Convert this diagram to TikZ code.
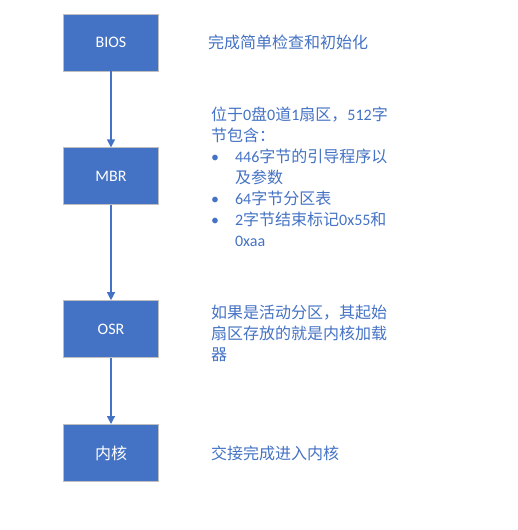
\documentclass[tikz,border=0pt]{standalone}
\usepackage{fontspec}
\setmainfont{Carlito}
\newfontfamily\cjk{Noto Sans CJK SC}
\usetikzlibrary{arrows.meta,positioning}
\definecolor{boxblue}{HTML}{4472C4}
\definecolor{edgegray}{HTML}{BFBFBF}

% switch to the CJK font for Han characters
\XeTeXinterchartokenstate=1
\newXeTeXintercharclass\zhclass
\newcount\zhcnt
\zhcnt="4E00
\loop
  \XeTeXcharclass\zhcnt=\zhclass
  \ifnum\zhcnt<"9FFF \advance\zhcnt by 1
\repeat
\XeTeXcharclass"FF0C=\zhclass
\XeTeXcharclass"FF1A=\zhclass
\XeTeXinterchartoks 0 \zhclass={\cjk}
\XeTeXinterchartoks 4095 \zhclass={\cjk}
\XeTeXinterchartoks \zhclass 0={\rmfamily}
\XeTeXinterchartoks 4095 0={\rmfamily}

\begin{document}
\begin{tikzpicture}[
  x=1pt, y=-1pt,
  stagebox/.style={rectangle, draw=edgegray, line width=0.8pt, fill=boxblue, text=white, minimum width=95pt, minimum height=57pt, font=\fontsize{16}{20}\selectfont},
  note/.style={align=left, inner sep=0pt, text=boxblue, font=\fontsize{16}{21}\selectfont},
  arrow/.style={-{Triangle[length=8pt,width=8pt]}, line width=1.2pt, draw=boxblue}
]
\useasboundingbox (0,0) rectangle (518,530);

\node[stagebox] (bios) at (111,42.5) {BIOS};
\node[stagebox, below=76pt of bios] (mbr) {MBR};
\node[stagebox, below=95pt of mbr] (osr) {OSR};
\node[stagebox, below=66pt of osr] (kernel) {内核};

\node[note, right=49pt of bios] (biosnote) {完成简单检查和初始化};
\node[note, right=52pt of mbr] (mbrnote) {位于0盘0道1扇区，512字\\
  节包含：\\
  \makebox[24pt][l]{\textbullet}446字节的引导程序以\\
  \hspace*{24pt}及参数\\
  \makebox[24pt][l]{\textbullet}64字节分区表\\
  \makebox[24pt][l]{\textbullet}2字节结束标记0x55和\\
  \hspace*{24pt}0xaa};
\node[note, right=52pt of osr, yshift=-4.5pt] (osrnote) {如果是活动分区，其起始\\
  扇区存放的就是内核加载\\
  器};
\node[note, right=52pt of kernel] (kernelnote) {交接完成进入内核};

\draw[arrow] (bios) -- (mbr);
\draw[arrow] (mbr) -- (osr);
\draw[arrow] (osr) -- (kernel);

\end{tikzpicture}
\end{document}
